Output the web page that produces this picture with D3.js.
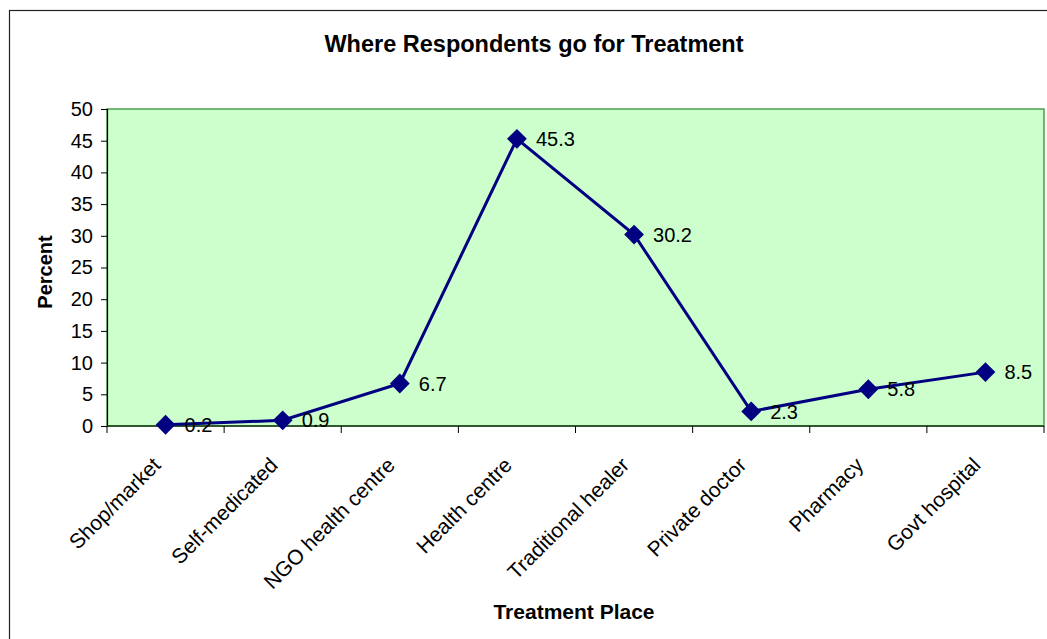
<!DOCTYPE html>
<html>
<head>
<meta charset="utf-8">
<script src="https://cdn.jsdelivr.net/npm/d3@7"></script>
<style>
  body { margin: 0; background: #fff; }
  text { font-family: Arial, "Liberation Sans", sans-serif; }
</style>
</head>
<body>
<div id="chart"></div>
<script>
// Data
const places = ['Shop/market', 'Self-medicated', 'NGO health centre', 'Health centre',
  'Traditional healer', 'Private doctor', 'Pharmacy', 'Govt hospital'];
const percents = [0.2, 0.9, 6.7, 45.3, 30.2, 2.3, 5.8, 8.5];
const yTicks = [0, 5, 10, 15, 20, 25, 30, 35, 40, 45, 50];

const W = 1047, H = 639;
const margin = {top: 109, right: 3, bottom: 213, left: 107};
const width = W - margin.left - margin.right;
const height = H - margin.top - margin.bottom;

const x = d3.scaleBand().domain(places).range([0, width]);
const y = d3.scaleLinear().domain([0, 50]).range([height, 0]);
const line = d3.line().x(d => x(d.place) + x.bandwidth() / 2).y(d => y(d.value));

const data = places.map((p, i) => ({place: p, value: percents[i]}));

const svg = d3.select('#chart').append('svg')
  .attr('width', W)
  .attr('height', H);

// outer frame
svg.append('rect')
  .attr('x', 9.5).attr('y', 10.5)
  .attr('width', W + 10).attr('height', H + 10)
  .attr('fill', 'none').attr('stroke', '#222').attr('stroke-width', 1.2);

svg.append('text')
  .attr('x', 534).attr('y', 52)
  .attr('text-anchor', 'middle')
  .attr('font-size', 23.5).attr('font-weight', 'bold')
  .text('Where Respondents go for Treatment');

const g = svg.append('g')
  .attr('transform', 'translate(' + margin.left + ',' + margin.top + ')');

// plot area
g.append('rect')
  .attr('width', width).attr('height', height)
  .attr('fill', '#ccffcc').attr('stroke', '#4a9e4a').attr('stroke-width', 1.5);

// y axis
const yAxis = d3.axisLeft(y).tickValues(yTicks).tickSize(6).tickPadding(8);
const ya = g.append('g').call(yAxis);
ya.select('.domain').attr('stroke', '#000').attr('stroke-width', 1.2);
ya.selectAll('text').attr('font-size', 20).attr('fill', '#000')
  .attr('font-family', 'Arial, "Liberation Sans", sans-serif');

// x axis with ticks on category boundaries
const xa = g.append('g').attr('transform', 'translate(0,' + height + ')');
xa.append('line').attr('x1', 0).attr('x2', width)
  .attr('stroke', '#1a3a1a').attr('stroke-width', 1.5);
const bounds = places.map(p => x(p)).concat([width]);
xa.selectAll('.tk').data(bounds).enter().append('line')
  .attr('x1', d => d).attr('x2', d => d)
  .attr('y1', 0).attr('y2', 7)
  .attr('stroke', '#000');
xa.selectAll('.lbl').data(places).enter().append('text')
  .attr('transform', d => 'translate(' + (x(d) + x.bandwidth() / 2 - 14) + ',30) rotate(-45)')
  .attr('text-anchor', 'end')
  .attr('dy', '0.7em')
  .attr('font-size', 21)
  .text(d => d);

// series line
g.append('path').datum(data)
  .attr('fill', 'none').attr('stroke', '#000080').attr('stroke-width', 3)
  .attr('d', line);

// diamond markers
g.selectAll('.pt').data(data).enter().append('path')
  .attr('transform', d => 'translate(' + (x(d.place) + x.bandwidth() / 2) + ',' + y(d.value) + ')')
  .attr('d', d3.symbol(d3.symbolDiamond2, 250))
  .attr('fill', '#000080');

// value labels
g.selectAll('.val').data(data).enter().append('text')
  .attr('x', d => x(d.place) + x.bandwidth() / 2 + 19)
  .attr('y', d => y(d.value))
  .attr('dy', '0.36em')
  .attr('font-size', 20)
  .text(d => d.value);

// axis titles
svg.append('text')
  .attr('transform', 'translate(52,272) rotate(-90)')
  .attr('text-anchor', 'middle')
  .attr('font-size', 20).attr('font-weight', 'bold')
  .text('Percent');

svg.append('text')
  .attr('x', 574).attr('y', 619)
  .attr('text-anchor', 'middle')
  .attr('font-size', 21).attr('font-weight', 'bold')
  .text('Treatment Place');
</script>
</body>
</html>
